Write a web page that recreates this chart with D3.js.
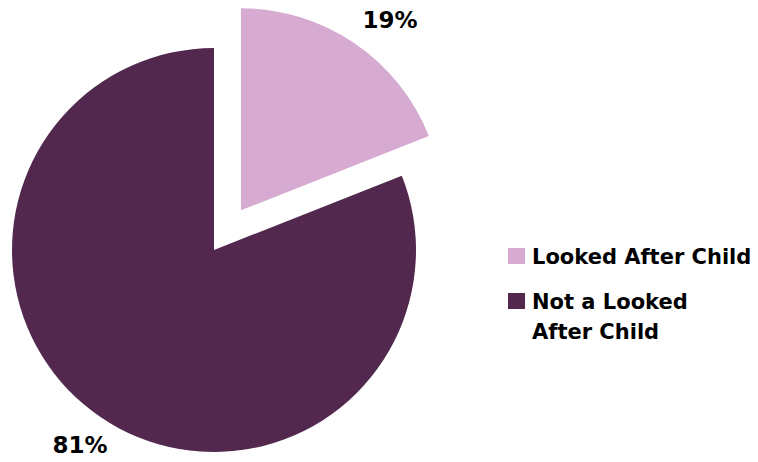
<!DOCTYPE html>
<html>
<head>
<meta charset="utf-8">
<script src="https://cdn.jsdelivr.net/npm/d3@7"></script>
<style>
  html, body { margin: 0; padding: 0; background: #fff; }
  svg text { font-family: "DejaVu Sans", Verdana, sans-serif; font-weight: bold; fill: #000; }
</style>
</head>
<body>
<svg id="chart" width="758" height="462"></svg>
<script>
// Share of pupils by looked-after status
const categories = ["Looked After Child", "Not a Looked After Child"];
const values = [19, 81];
const valueLabels = ["19%", "81%"];
const colors = ["#D6AAD1", "#52284E"];
const legendLines = [["Looked After Child"], ["Not a Looked", "After Child"]];

const svg = d3.select("#chart");
const cx = 214, cy = 250, radius = 202, explode = 48;

const pie = d3.pie().sort(null).value(d => d)(values);
const arc = d3.arc().innerRadius(0).outerRadius(radius);

const g = svg.append("g").attr("transform", `translate(${cx},${cy})`);

g.selectAll("path")
  .data(pie)
  .join("path")
  .attr("d", arc)
  .attr("fill", (d, i) => colors[i])
  .attr("transform", (d, i) => {
    if (i !== 0) return null;
    const a = (d.startAngle + d.endAngle) / 2;
    return `translate(${Math.sin(a) * explode},${-Math.cos(a) * explode})`;
  });

// Percentage labels placed just outside each slice
const labelPos = [
  { x: 390, y: 28 },
  { x: 80, y: 453 }
];
svg.selectAll("text.pct")
  .data(pie)
  .join("text")
  .attr("class", "pct")
  .attr("x", (d, i) => labelPos[i].x)
  .attr("y", (d, i) => labelPos[i].y)
  .attr("text-anchor", "middle")
  .style("font-size", "23px")
  .text((d, i) => valueLabels[i]);

// Legend
const legend = svg.append("g");
const rows = [{ sy: 248, ty: 264 }, { sy: 293, ty: 309 }];
categories.forEach((c, i) => {
  legend.append("rect")
    .attr("x", 508).attr("y", rows[i].sy)
    .attr("width", 17).attr("height", 16)
    .attr("fill", colors[i]);
  const t = legend.append("text")
    .attr("x", 532).attr("y", rows[i].ty)
    .style("font-size", "21px");
  legendLines[i].forEach((line, j) => {
    t.append("tspan").attr("x", 532).attr("dy", j === 0 ? 0 : 30).text(line);
  });
});
</script>
</body>
</html>
